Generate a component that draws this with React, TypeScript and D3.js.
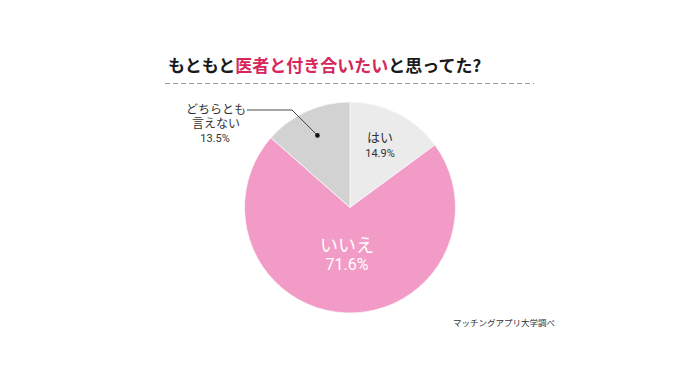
import React from "react";
import * as d3 from "d3";

const labels = ["はい", "いいえ", "どちらとも言えない"];
const values = [14.9, 71.6, 13.5];
const colors = ["#ebebeb", "#f29bc6", "#d2d2d2"];

const W = 700, H = 367;
const cx = 350, cy = 207.5, R = 105.5;

export default function App() {
  const pie = d3.pie<number>().sort(null).value(d => d);
  const arcs = pie(values);
  const arc = d3.arc<d3.PieArcDatum<number>>().innerRadius(0).outerRadius(R);
  const font = "'Noto Sans CJK JP', 'Noto Sans', sans-serif";
  const num = "Roboto, 'Liberation Sans', sans-serif";

  // leader dot for the small gray slice
  const dotArc = d3.arc<d3.PieArcDatum<number>>().innerRadius(R * 0.75).outerRadius(R * 0.75);
  const dot = dotArc.centroid(arcs[2]);

  return (
    <svg width={W} height={H} style={{ position: "absolute", left: 0, top: 0 }} fontFamily={font}>
      <rect width={W} height={H} fill="#fff" />
      <text x={168} y={72} fontSize={17} fontWeight={700} fill="#1a1a1a">
        もともと<tspan fill="#d6265a">医者と付き合いたい</tspan>と思ってた?
      </text>
      <line x1={165} x2={534} y1={83.5} y2={83.5} stroke="#9a9a9a" strokeWidth={1.2} strokeDasharray="5,3" />
      <g transform={`translate(${cx},${cy})`}>
        {arcs.map((a, i) => (
          <path key={labels[i]} d={arc(a) ?? ""} fill={colors[i]} stroke="#fafafa" strokeWidth={0.8} />
        ))}
        <polyline
          points={`${247 - cx},${110 - cy} ${292 - cx},${110 - cy} ${dot[0]},${dot[1]}`}
          fill="none" stroke="#333" strokeWidth={0.9} />
        <circle cx={dot[0]} cy={dot[1]} r={2.3} fill="#111" />
      </g>
      <g textAnchor="middle" fill="#333">
        <text x={380} y={142} fontSize={13}>{labels[0]}</text>
        <text x={380} y={157} fontSize={11} fontFamily={num}>{values[0].toFixed(1)}%</text>
        <text x={347} y={252} fontSize={18} fill="#fff">{labels[1]}</text>
        <text x={347} y={270} fontSize={16} fill="#fff" fontFamily={num}>{values[1].toFixed(1)}%</text>
        <text x={216} y={114} fontSize={12}>どちらとも</text>
        <text x={216} y={128} fontSize={12}>言えない</text>
        <text x={215} y={142} fontSize={11} fontFamily={num}>{values[2].toFixed(1)}%</text>
      </g>
      <text x={453} y={326} fontSize={8.5} fill="#333">マッチングアプリ大学調べ</text>
    </svg>
  );
}
